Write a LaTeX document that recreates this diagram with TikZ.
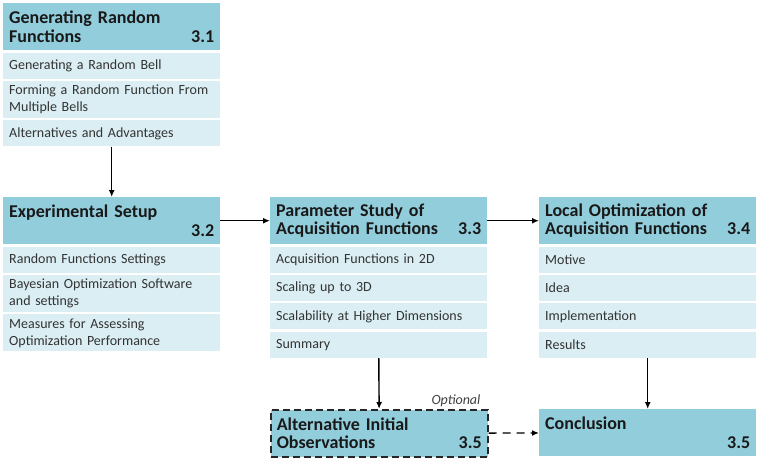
\documentclass[tikz,border=0pt]{standalone}
\usepackage{fontspec}
\setmainfont{Carlito}
\usepackage{xcolor}
\usepackage{tikz}
\usetikzlibrary{positioning, arrows.meta}

\definecolor{headblue}{HTML}{92CDDC}
\definecolor{subblue}{HTML}{DAEEF3}

\tikzset{
    head/.style={fill=headblue, anchor=north west, minimum width=217pt, minimum height=47pt,
        text width=205pt, inner xsep=6pt, inner ysep=2pt, align=left,
        font=\fontsize{18}{18.5}\selectfont\bfseries, text=black!90},
    sub/.style={fill=subblue, minimum width=217pt, minimum height=26pt,
        text width=205pt, inner xsep=6pt, inner ysep=4pt, align=left,
        font=\fontsize{14}{17}\selectfont, text=black!80},
    flow/.style={-{Latex[length=7pt,width=6pt]}, line width=1.4pt}
}

\begin{document}
\begin{tikzpicture}[x=1pt, y=1pt, node distance=2pt]
        \useasboundingbox (0,0) rectangle (771,-472);

        % section 3.1
        \node[head] (h31) at (3,-3) {Generating Random\\Functions\hspace*{\fill}3.1};
        \node[sub] (r31a) [below=of h31] {Generating a Random Bell};
        \node[sub] (r31b) [below=of r31a] {Forming a Random Function From\\Multiple Bells};
        \node[sub] (r31c) [below=of r31b] {Alternatives and Advantages};

        % section 3.2
        \node[head] (h32) at (3,-197) {Experimental Setup\\\hspace*{\fill}3.2};
        \node[sub] (r32a) [below=of h32] {Random Functions Settings};
        \node[sub] (r32b) [below=of r32a] {Bayesian Optimization Software\\and settings};
        \node[sub] (r32c) [below=of r32b] {Measures for Assessing\\Optimization Performance};

        % section 3.3
        \node[head] (h33) at (270,-197) {Parameter Study of\\Acquisition Functions\hspace*{\fill}3.3};
        \node[sub] (r33a) [below=of h33] {Acquisition Functions in 2D};
        \node[sub] (r33b) [below=of r33a] {Scaling up to 3D};
        \node[sub] (r33c) [below=of r33b] {Scalability at Higher Dimensions};
        \node[sub] (r33d) [below=of r33c] {Summary};

        % section 3.4
        \node[head] (h34) at (539,-197) {Local Optimization of\\Acquisition Functions\hspace*{\fill}3.4};
        \node[sub] (r34a) [below=of h34] {Motive};
        \node[sub] (r34b) [below=of r34a] {Idea};
        \node[sub] (r34c) [below=of r34b] {Implementation};
        \node[sub] (r34d) [below=of r34c] {Results};

        % section 3.5
        \node[head, draw=black!85, line width=1.6pt, dash pattern=on 7pt off 4pt] (alt) at (270,-409)
            {Alternative Initial\\Observations\hspace*{\fill}3.5};
        \node[head] (concl) at (539,-409) {Conclusion\\\hspace*{\fill}3.5};
        \node[above left=1pt and 7pt of alt.north east, inner sep=1pt,
            font=\fontsize{14}{16}\selectfont\itshape, text=black!75] (opt) {Optional};

        \path[flow]
        (r31c) edge (h32)
        (h32) edge (h33)
        (h33) edge (h34)
        (r33d) edge (alt)
        (r34d) edge (concl)
        (alt) edge [dash pattern=on 8pt off 6pt] (concl);

\end{tikzpicture}
\end{document}
